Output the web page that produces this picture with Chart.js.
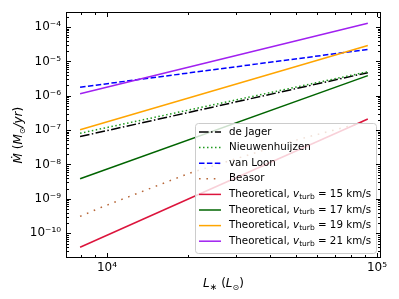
<!DOCTYPE html>
<html><head><meta charset="utf-8">
<script src="https://cdn.jsdelivr.net/npm/chart.js@4/dist/chart.umd.min.js"></script>
<style>html,body{margin:0;padding:0;background:#fff;} #c{display:block;}</style>
</head><body>
<canvas id="c" width="399" height="299"></canvas>
<script>
// ---- data ----
const lumRange = [7950, 92500];            // L* (Lsun) at the ends of the straight relations
const deJager = [6.5e-8, 4.7e-6];
const nieuwenhuijzen = [8.1e-8, 5.0e-6];
const vanLoon = [1.77e-6, 2.23e-5];
const beasorL = [7950, 9550, 20100, 50500, 77300, 92500];
const beasorMdot = [3.1e-10, 5.7e-10, 5.5e-9, 5.2e-8, 1.26e-7, 1.75e-7];
const theo15 = [3.9e-11, 2.1e-7];
const theo17 = [3.86e-9, 3.85e-6];
const theo19 = [1.03e-7, 2.9e-5];
const theo21 = [1.14e-6, 1.28e-4];
const vturb = [15, 17, 19, 21];
const xMajorTicks = [1e4, 1e5];
const xTickLabels = ['10⁴', '10⁵'];
const yMajorTicks = [1e-10, 1e-9, 1e-8, 1e-7, 1e-6, 1e-5, 1e-4];
const yTickLabels = ['10⁻¹⁰', '10⁻⁹', '10⁻⁸', '10⁻⁷', '10⁻⁶', '10⁻⁵', '10⁻⁴'];

const FONT = "'DejaVu Sans', sans-serif";

function pts(xs, ys) { return xs.map((v, i) => ({ x: v, y: ys[i] })); }
const series = [
  { label: 'de Jager', xs: lumRange, ys: deJager, color: '#000000', dash: [9.6, 2.4, 1.5, 2.4] },
  { label: 'Nieuwenhuijzen', xs: lumRange, ys: nieuwenhuijzen, color: '#1f9a1f', dash: [1.5, 2.5] },
  { label: 'van Loon', xs: lumRange, ys: vanLoon, color: '#0000ff', dash: [5.5, 2.4] },
  { label: 'Beasor', xs: beasorL, ys: beasorMdot, color: '#b8683a', dash: [1.6, 5.8] },
  { label: 'T', v: vturb[0], xs: lumRange, ys: theo15, color: '#dc143c', dash: [] },
  { label: 'T', v: vturb[1], xs: lumRange, ys: theo17, color: '#006400', dash: [] },
  { label: 'T', v: vturb[2], xs: lumRange, ys: theo19, color: '#ffa500', dash: [] },
  { label: 'T', v: vturb[3], xs: lumRange, ys: theo21, color: '#a020f0', dash: [] }
];
const n = series.length;
const datasets = series.map((s, i) => ({
  label: s.v ? ('Theoretical, v_turb = ' + s.v + ' km/s') : s.label,
  data: pts(s.xs, s.ys),
  borderColor: s.color, backgroundColor: s.color,
  borderWidth: 1.5, borderDash: s.dash, borderCapStyle: 'butt',
  pointRadius: 0, fill: false, tension: 0, order: n - i
}));

function drawRich(ctx, x, y, parts) {
  let cx = x;
  for (const p of parts) {
    ctx.font = p.font;
    ctx.fillText(p.t, cx, y + (p.dy || 0));
    cx += ctx.measureText(p.t).width;
  }
  return cx - x;
}
function richWidth(ctx, parts) {
  let w = 0;
  for (const p of parts) { ctx.font = p.font; w += ctx.measureText(p.t).width; }
  return w;
}

const framePlugin = {
  id: 'frame',
  afterDatasetsDraw(chart) {
    const { ctx, chartArea: a, scales: { x, y } } = chart;
    const L = Math.round(a.left) + 0.5, R = Math.round(a.right) - 0.5;
    const T = Math.round(a.top) + 0.5, B = Math.round(a.bottom) - 0.5;
    ctx.save();
    // ---- legend ----
    const lx0 = 195.5, ly0 = 123.5, lw = 181, lh = 130;
    ctx.beginPath();
    if (ctx.roundRect) ctx.roundRect(lx0, ly0, lw, lh, 3); else ctx.rect(lx0, ly0, lw, lh);
    ctx.fillStyle = 'rgba(255,255,255,0.8)';
    ctx.fill();
    ctx.strokeStyle = '#cccccc'; ctx.lineWidth = 1; ctx.stroke();
    ctx.textBaseline = 'middle'; ctx.fillStyle = '#000';
    series.forEach((s, i) => {
      const yy = 132 + i * 15.6;
      ctx.beginPath();
      ctx.setLineDash(s.dash); ctx.lineCap = 'butt';
      ctx.strokeStyle = s.color; ctx.lineWidth = 1.5;
      ctx.moveTo(199, yy); ctx.lineTo(221, yy); ctx.stroke();
      ctx.setLineDash([]);
      ctx.fillStyle = '#000';
      if (s.v) {
        drawRich(ctx, 229, yy, [
          { t: 'Theoretical, ', font: '10.3px ' + FONT },
          { t: 'v', font: 'oblique 10.3px ' + FONT },
          { t: 'turb', font: '7.5px ' + FONT, dy: 2.5 },
          { t: ' = ' + s.v + ' km/s', font: '10.3px ' + FONT }
        ]);
      } else {
        ctx.font = '10.3px ' + FONT;
        ctx.fillText(s.label, 229, yy);
      }
    });
    // ---- ticks ----
    ctx.strokeStyle = '#000'; ctx.lineWidth = 1;
    const minorX = [], minorY = [];
    for (let e = 3; e <= 5; e++) for (let k = 2; k <= 9; k++) { const v = k * Math.pow(10, e); if (v > x.min && v < x.max) minorX.push(v); }
    for (let e = -12; e <= -3; e++) for (let k = 2; k <= 9; k++) { const v = k * Math.pow(10, e); if (v > y.min && v < y.max) minorY.push(v); }
    ctx.beginPath();
    const tx = (v, len) => { const p = Math.round(x.getPixelForValue(v)) + 0.5; ctx.moveTo(p, B); ctx.lineTo(p, B - len); ctx.moveTo(p, T); ctx.lineTo(p, T + len); };
    const ty = (v, len) => { const p = Math.round(y.getPixelForValue(v)) + 0.5; ctx.moveTo(L, p); ctx.lineTo(L + len, p); ctx.moveTo(R, p); ctx.lineTo(R - len, p); };
    xMajorTicks.forEach(v => { if (v >= x.min && v <= x.max) tx(v, 4.5); });
    minorX.forEach(v => tx(v, 2.5));
    yMajorTicks.forEach(v => ty(v, 4.5));
    minorY.forEach(v => ty(v, 2.5));
    ctx.stroke();
    // ---- frame ----
    ctx.strokeRect(L, T, R - L, B - T);
    // ---- axis titles ----
    ctx.fillStyle = '#000'; ctx.textBaseline = 'alphabetic';
    const xt = [
      { t: 'L', font: 'oblique 12px ' + FONT },
      { t: '∗', font: '9px ' + FONT, dy: 2.5 },
      { t: ' (', font: '12px ' + FONT },
      { t: 'L', font: 'oblique 12px ' + FONT },
      { t: '⊙', font: '8px ' + FONT, dy: 2.5 },
      { t: ')', font: '12px ' + FONT }
    ];
    const xw = richWidth(ctx, xt);
    drawRich(ctx, (a.left + a.right) / 2 - xw / 2, 287, xt);
    const yt = [
      { t: 'Ṁ', font: 'oblique 12px ' + FONT },
      { t: ' (', font: '12px ' + FONT },
      { t: 'M', font: 'oblique 12px ' + FONT },
      { t: '⊙', font: '8px ' + FONT, dy: 2.5 },
      { t: '/yr', font: 'oblique 12px ' + FONT },
      { t: ')', font: '12px ' + FONT }
    ];
    const yw = richWidth(ctx, yt);
    ctx.translate(22, (a.top + a.bottom) / 2);
    ctx.rotate(-Math.PI / 2);
    drawRich(ctx, -yw / 2, 0, yt);
    ctx.restore();
  }
};

new Chart(document.getElementById('c'), {
  type: 'line',
  data: { datasets },
  options: {
    responsive: false, animation: false, devicePixelRatio: 1,
    layout: { padding: { top: 9, right: 18, bottom: 0, left: 0 } },
    plugins: { legend: { display: false }, tooltip: { enabled: false } },
    scales: {
      x: {
        type: 'logarithmic', min: 7050, max: 103500,
        grid: { display: false, drawTicks: false }, border: { display: false },
        ticks: {
          color: '#000', font: { family: FONT, size: 12 }, padding: 3, maxRotation: 0, autoSkip: false,
          callback: (v) => { const i = xMajorTicks.findIndex(t => Math.abs(t - v) / t < 1e-6); return i >= 0 ? xTickLabels[i] : ''; }
        },
        afterBuildTicks: (s) => { s.ticks = xMajorTicks.map(v => ({ value: v })); },
        afterFit: (s) => { s.height = 41; }
      },
      y: {
        type: 'logarithmic', min: 1.9e-11, max: 2.7e-4,
        grid: { display: false, drawTicks: false }, border: { display: false },
        ticks: {
          color: '#000', font: { family: FONT, size: 12 }, padding: 5, autoSkip: false,
          callback: (v) => { const i = yMajorTicks.findIndex(t => Math.abs(t - v) / t < 1e-6); return i >= 0 ? yTickLabels[i] : ''; }
        },
        afterBuildTicks: (s) => { s.ticks = yMajorTicks.map(v => ({ value: v })); },
        afterFit: (s) => { s.width = 66; }
      }
    }
  },
  plugins: [framePlugin]
});
</script>
</body></html>
